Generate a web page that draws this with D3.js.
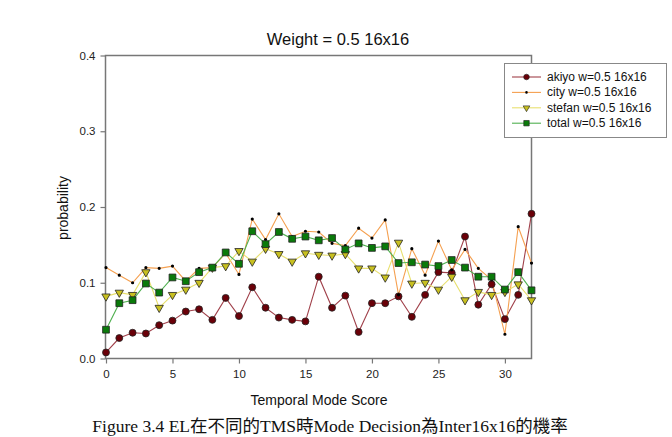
<!DOCTYPE html>
<html><head><meta charset="utf-8">
<script src="https://cdn.jsdelivr.net/npm/d3@7"></script>
<style>body{margin:0;background:#fff}svg{display:block}</style>
</head><body>
<svg id="c" width="672" height="437"></svg>
<script>
const scores = d3.range(0, 33);
const akiyo = [0.008,0.027,0.034,0.033,0.044,0.050,0.062,0.065,0.051,0.080,0.056,0.094,0.067,0.054,0.051,0.049,0.108,0.067,0.083,0.035,0.073,0.073,0.082,0.055,0.084,0.114,0.113,0.161,0.071,0.098,0.052,0.084,0.191];
const city = [0.120,0.110,0.100,0.120,0.119,0.122,0.102,0.119,0.120,0.139,0.111,0.184,0.157,0.191,0.161,0.168,0.167,0.152,0.149,0.172,0.159,0.183,0.084,0.145,0.110,0.155,0.117,0.144,0.119,0.104,0.032,0.174,0.126];
const stefan = [0.082,0.087,0.084,0.114,0.067,0.084,0.091,0.100,0.120,0.122,0.142,0.128,0.145,0.138,0.128,0.139,0.137,0.136,0.138,0.119,0.119,0.107,0.153,0.099,0.100,0.091,0.108,0.077,0.088,0.084,0.088,0.098,0.077];
const total = [0.038,0.073,0.077,0.099,0.087,0.107,0.102,0.114,0.120,0.140,0.125,0.168,0.151,0.167,0.158,0.161,0.156,0.159,0.144,0.152,0.146,0.148,0.126,0.127,0.124,0.122,0.130,0.120,0.108,0.108,0.091,0.114,0.090];
const xTicks = [0,5,10,15,20,25,30];
const yTicks = [0.0,0.1,0.2,0.3,0.4];
const seriesNames = ["akiyo w=0.5 16x16","city w=0.5 16x16","stefan w=0.5 16x16","total w=0.5 16x16"];
const titleText = "Weight = 0.5 16x16";
const xLabel = "Temporal Mode Score";
const yLabel = "probability";
const caption = "Figure 3.4 EL在不同的TMS時Mode Decision為Inter16x16的機率";

const svg = d3.select("#c");
const L = 105.5, R = 531.5, T = 55.5, B = 358.5;
const x = d3.scaleLinear().domain([0, 32]).range([L + 0.5, R]);
const y = d3.scaleLinear().domain([0, 0.4]).range([B, T]);
const font = "'Liberation Sans', Arial, sans-serif";
const axisCol = "#777";

// frame
svg.append("rect").attr("x", L).attr("y", T).attr("width", R - L).attr("height", B - T)
  .attr("fill", "none").attr("stroke", axisCol).attr("stroke-width", 1.5);

const xa = svg.append("g").attr("transform", `translate(0,${B})`)
  .call(d3.axisBottom(x).tickValues(xTicks).tickSize(5).tickPadding(6).tickFormat(d3.format("d")));
const ya = svg.append("g").attr("transform", `translate(${L},0)`)
  .call(d3.axisLeft(y).tickValues(yTicks).tickSize(5).tickPadding(5).tickFormat(d3.format(".1f")));
[xa, ya].forEach(a => {
  a.select(".domain").remove();
  a.selectAll("line").attr("stroke", axisCol).attr("stroke-width", 1.2);
  a.selectAll("text").attr("font-family", font).attr("font-size", 11.5).attr("fill", "#222");
});

svg.append("text").attr("x", 338).attr("y", 45).attr("text-anchor", "middle")
  .attr("font-family", font).attr("font-size", 16.5).attr("fill", "#111").text(titleText);
svg.append("text").attr("x", 319).attr("y", 405).attr("text-anchor", "middle")
  .attr("font-family", font).attr("font-size", 14).attr("fill", "#111").text(xLabel);
svg.append("text").attr("transform", "translate(68,208) rotate(-90)").attr("text-anchor", "middle")
  .attr("font-family", font).attr("font-size", 14).attr("fill", "#111").text(yLabel);
svg.append("text").attr("x", 330).attr("y", 432).attr("text-anchor", "middle")
  .attr("font-family", "'Liberation Serif', 'Times New Roman', 'Noto Sans CJK TC', serif").attr("font-size", 17.5).attr("fill", "#111").text(caption);

const series = [
  {name: seriesNames[0], data: akiyo, line: "#a0404a", fill: "#6a0008", shape: "circle"},
  {name: seriesNames[1], data: city, line: "#f5a050", fill: "#000", shape: "dot"},
  {name: seriesNames[2], data: stefan, line: "#e8e070", fill: "#c8c020", shape: "tri"},
  {name: seriesNames[3], data: total, line: "#50b050", fill: "#0a7a0a", shape: "square"}
];
const symbols = {
  circle: d3.symbol().type(d3.symbolCircle).size(38),
  dot: d3.symbol().type(d3.symbolCircle).size(8),
  tri: d3.symbol().type(d3.symbolTriangle).size(30),
  square: d3.symbol().type(d3.symbolSquare).size(46)
};
function drawMarker(g, s, cx, cy, scale) {
  return g.append("path").attr("d", symbols[s.shape]()).attr("fill", s.fill)
    .attr("stroke", s.shape === "dot" ? "none" : "#222").attr("stroke-width", 0.8)
    .attr("transform", `translate(${cx},${cy})${s.shape === "tri" ? " rotate(180)" : ""} scale(${scale})`);
}

const line = d3.line().x((d, i) => x(scores[i])).y(d => y(d));
const plot = svg.append("g");
series.forEach(s => {
  plot.append("path").datum(s.data).attr("d", line).attr("fill", "none")
    .attr("stroke", s.line).attr("stroke-width", 1.1);
});
series.forEach(s => {
  const g = plot.append("g");
  s.data.forEach((d, i) => drawMarker(g, s, x(scores[i]), y(d), 1));
});

// legend
const lg = svg.append("g");
lg.append("rect").attr("x", 504.5).attr("y", 63.5).attr("width", 162).attr("height", 74)
  .attr("fill", "#fff").attr("stroke", "#888").attr("stroke-width", 1);
series.forEach((s, i) => {
  const yy = 77 + i * 15.4;
  lg.append("line").attr("x1", 512).attr("x2", 541).attr("y1", yy).attr("y2", yy)
    .attr("stroke", s.line).attr("stroke-width", 1.1);
  drawMarker(lg, s, 526.5, yy, 0.8);
  lg.append("text").attr("x", 547).attr("y", yy + 4).attr("font-family", font)
    .attr("font-size", 12).attr("fill", "#111").text(s.name);
});
</script>
</body></html>
